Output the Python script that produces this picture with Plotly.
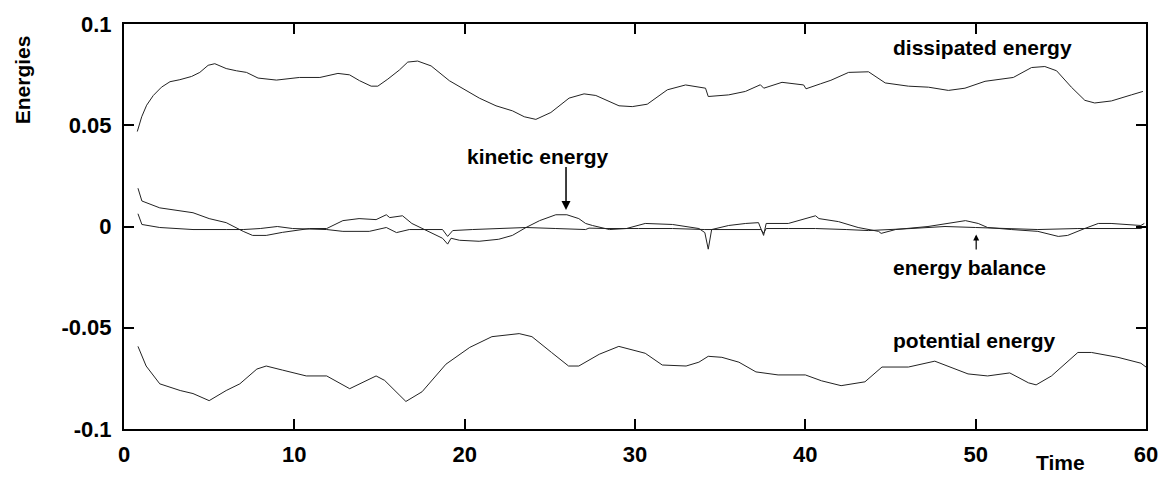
import plotly.graph_objects as go

# ---- data ----
dissipated_t = [0.78, 1.04, 1.33, 1.72, 2.2, 2.7, 3.28, 3.97, 4.45, 4.94, 5.33, 6.0, 6.6, 7.19, 7.87, 8.95, 10.3, 11.5, 12.56, 13.24, 13.83, 14.51, 14.9, 15.49, 16.17, 16.66, 17.24, 18.03, 19.1, 20.08, 20.86, 21.84, 22.81, 23.5, 24.18, 25.06, 26.13, 27.01, 27.7, 29.06, 29.84, 30.72, 31.9, 32.97, 34.14, 34.3, 35.5, 36.48, 37.36, 37.56, 38.63, 39.9, 40.04, 40.9, 41.5, 42.54, 43.71, 44.69, 46.05, 47.23, 48.4, 49.37, 50.55, 52.21, 53.28, 54.06, 54.75, 55.62, 56.41, 56.99, 57.97, 59.14, 59.82]
dissipated_v = [0.0469, 0.0542, 0.0599, 0.0647, 0.0688, 0.0715, 0.0725, 0.0741, 0.0761, 0.0796, 0.0804, 0.078, 0.0769, 0.0761, 0.0733, 0.0723, 0.0736, 0.0736, 0.0756, 0.0749, 0.072, 0.0693, 0.0693, 0.0728, 0.0773, 0.0812, 0.0817, 0.0793, 0.072, 0.0671, 0.0634, 0.0596, 0.0571, 0.0542, 0.0529, 0.0563, 0.0634, 0.0655, 0.0647, 0.0596, 0.0592, 0.0604, 0.0675, 0.0699, 0.0683, 0.0642, 0.065, 0.0667, 0.07, 0.0683, 0.0712, 0.0699, 0.068, 0.0705, 0.0722, 0.0761, 0.0764, 0.0709, 0.0693, 0.0688, 0.0672, 0.0683, 0.0717, 0.0736, 0.0785, 0.079, 0.0769, 0.0688, 0.0623, 0.061, 0.062, 0.065, 0.0667]

potential_t = [0.82, 1.3, 2.1, 3.3, 4.05, 5.0, 6.0, 6.8, 7.8, 8.35, 9.3, 10.7, 11.9, 13.25, 14.8, 15.3, 16.2, 16.55, 17.5, 18.9, 20.3, 21.6, 23.2, 23.95, 25.1, 26.1, 26.7, 27.9, 29.05, 30.6, 31.6, 33.0, 33.75, 34.3, 35.1, 36.1, 37.1, 38.4, 40.0, 40.95, 42.1, 43.5, 44.5, 46.05, 47.6, 49.55, 50.7, 52.0, 53.1, 53.55, 54.45, 56.0, 56.8, 58.35, 59.7, 60.0]
potential_v = [-0.0592, -0.0689, -0.0777, -0.081, -0.0825, -0.086, -0.081, -0.0777, -0.0704, -0.0689, -0.0709, -0.0738, -0.0738, -0.0801, -0.0738, -0.076, -0.0835, -0.0864, -0.0816, -0.068, -0.0597, -0.0544, -0.0529, -0.0544, -0.0622, -0.0689, -0.0689, -0.0631, -0.0592, -0.0626, -0.0684, -0.0689, -0.067, -0.0641, -0.0646, -0.067, -0.0718, -0.0733, -0.0733, -0.0762, -0.0786, -0.0767, -0.0694, -0.0694, -0.0665, -0.0728, -0.0738, -0.0723, -0.0772, -0.0782, -0.0738, -0.0622, -0.0622, -0.0646, -0.0675, -0.0694]

kinetic_t = [0.82, 1.05, 2.1, 3.1, 4.05, 5.0, 6.0, 7.0, 7.55, 8.35, 9.3, 10.9, 11.9, 12.85, 13.8, 14.8, 15.4, 15.6, 16.35, 16.9, 17.9, 18.7, 19.0, 19.2, 19.7, 20.85, 22.0, 22.8, 23.6, 24.4, 25.35, 26.0, 26.7, 27.1, 27.5, 28.5, 29.5, 30.6, 32.2, 33.75, 34.1, 34.3, 34.5, 35.5, 36.5, 37.25, 37.55, 37.7, 39.0, 39.6, 40.6, 40.8, 41.95, 43.1, 44.3, 44.45, 45.3, 47.2, 48.6, 49.4, 50.15, 50.7, 52.1, 53.65, 54.85, 55.4, 56.4, 57.2, 57.95, 58.9, 59.7, 59.9]
kinetic_v = [0.0189, 0.0126, 0.0092, 0.0078, 0.0068, 0.0039, 0.0019, -0.0024, -0.0044, -0.0044, -0.0029, -0.001, -0.001, 0.0029, 0.0039, 0.0034, 0.0058, 0.0044, 0.0053, 0.0015, -0.0024, -0.0058, -0.0087, -0.0058, -0.0068, -0.0073, -0.0063, -0.0044, -0.0005, 0.0029, 0.0058, 0.0058, 0.0039, 0.0015, 0.0005, -0.0015, -0.001, 0.0015, 0.001, -0.001, -0.003, -0.0112, -0.0015, 0.0005, 0.0015, 0.0019, -0.0044, 0.0015, 0.0015, 0.0029, 0.0053, 0.0039, 0.0024, -0.0005, -0.0024, -0.0034, -0.0015, 0.0, 0.0019, 0.0029, 0.0015, -0.0005, -0.0015, -0.0024, -0.0049, -0.0044, -0.001, 0.0015, 0.0015, 0.001, 0.0005, 0.0015]

balance_t = [0.82, 1.05, 2.1, 4.05, 6.0, 7.0, 8.0, 9.0, 9.9, 11.9, 12.85, 14.4, 15.4, 16.0, 16.75, 17.75, 18.7, 19.0, 19.3, 20.45, 22.4, 23.6, 25.35, 27.1, 27.3, 28.3, 30.2, 32.2, 34.1, 36.1, 37.4, 37.55, 37.7, 39.0, 40.6, 42.4, 43.7, 46.2, 48.2, 50.0, 52.1, 53.65, 56.0, 58.0, 59.7, 59.9]
balance_v = [0.0063, 0.001, -0.0005, -0.0015, -0.0015, -0.0015, -0.001, 0.0, -0.001, -0.0015, -0.0024, -0.0024, -0.0005, -0.003, -0.0015, -0.0015, -0.0015, -0.0049, -0.002, -0.0015, -0.001, -0.0005, -0.001, -0.0015, -0.0008, -0.001, -0.001, -0.001, -0.0015, -0.0015, -0.0015, -0.0034, -0.001, -0.001, -0.001, -0.0015, -0.002, -0.001, 0.0, -0.0005, -0.001, -0.0015, -0.001, -0.001, -0.001, 0.0]

x_ticks = [0, 10, 20, 30, 40, 50, 60]
y_ticks = [-0.1, -0.05, 0, 0.05, 0.1]
y_tick_text = ["-0.1", "-0.05", "0", "0.05", "0.1"]

FONT = "Liberation Sans, Arial, sans-serif"
LINE = dict(color="#222222", width=1)

fig = go.Figure()
for t, v in [(dissipated_t, dissipated_v), (potential_t, potential_v),
             (kinetic_t, kinetic_v), (balance_t, balance_v)]:
    fig.add_trace(go.Scatter(x=t, y=v, mode="lines", line=LINE, showlegend=False, hoverinfo="skip"))

axis_common = dict(showline=True, linewidth=2, linecolor="black", mirror="ticks",
                   ticks="inside", ticklen=10, tickwidth=2, tickcolor="black",
                   showgrid=False, zeroline=False,
                   tickfont=dict(family=FONT, size=22, color="black", weight="bold"))

fig.update_xaxes(range=[0, 60], tickvals=x_ticks, ticklabelstandoff=5, **axis_common)
fig.update_yaxes(range=[-0.1, 0.1], tickvals=y_ticks, ticktext=y_tick_text, ticklabelstandoff=6, **axis_common)

ann_font = dict(family=FONT, size=21, color="black", weight="bold")
labels = [("dissipated energy", 45.05, 0.0886), ("kinetic energy", 20.03, 0.0345),
          ("energy balance", 45.05, -0.0201), ("potential energy", 45.05, -0.0563)]
for txt, x, y in labels:
    fig.add_annotation(x=x, y=y, text=txt, showarrow=False, xanchor="left", yanchor="middle", font=ann_font)

# arrows
fig.add_annotation(x=25.95, y=0.0082, ax=25.95, ay=0.0301, axref="x", ayref="y", text="",
                   showarrow=True, arrowhead=2, arrowsize=1.2, arrowwidth=1.5, arrowcolor="black")
fig.add_annotation(x=50.03, y=-0.0039, ax=50.03, ay=-0.0121, axref="x", ayref="y", text="",
                   showarrow=True, arrowhead=2, arrowsize=1.0, arrowwidth=1.2, arrowcolor="black")

# axis titles
fig.add_annotation(xref="paper", yref="paper", x=(22 - 124) / 1024, y=(431 - 76) / 412,
                   text="Energies", textangle=-90, showarrow=False, font=ann_font,
                   xanchor="center", yanchor="middle")
fig.add_annotation(xref="paper", yref="paper", x=(1062 - 124) / 1024, y=(431 - 465) / 412,
                   text="Time", showarrow=False, font=ann_font, xanchor="center", yanchor="middle")

fig.update_layout(width=1170, height=479, margin=dict(l=124, r=22, t=19, b=48),
                  plot_bgcolor="white", paper_bgcolor="white")
fig.write_html("out.html")
